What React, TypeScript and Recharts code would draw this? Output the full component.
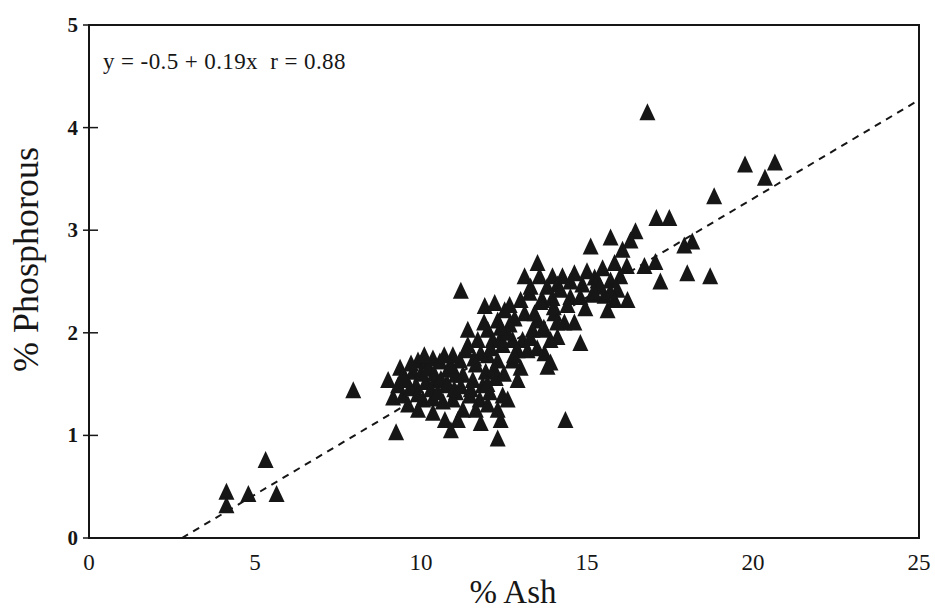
import { ReferenceArea, Scatter, ScatterChart, XAxis, YAxis } from "recharts"

// % ash (x) and % phosphorous (y)
const ashPct = [
  4.14, 4.14, 4.8, 5.32, 5.65, 7.96, 9.25, 11.2, 14.35, 12.31, 16.82, 19.76, 20.66, 20.36,
  18.83, 17.09, 17.48, 17.93, 18.17, 16.73, 17.06, 17.21, 18.02, 18.71, 15.11, 15.71, 16.46,
  13.12, 13.51, 13.57, 13.96, 14.26, 14.62, 15.23, 15.53, 15.92, 16.22, 15.83, 15.71, 16.07,
  16.31, 15.47, 15.62, 14.95, 14.5, 14.8, 14.11, 14.32, 14.62, 13.9, 13.72, 13.9, 13.81,
  13.51, 13.12, 13.42, 14.02, 14.41, 12.91, 13.0, 12.61, 12.4, 12.46, 12.76,
  11.92, 12.22, 12.52, 12.82, 12.67, 12.31, 12.01, 11.41, 11.71, 12.16, 12.46, 12.01, 12.31,
  11.35, 11.65, 11.95, 12.25, 11.86, 11.56, 11.26, 11.47, 11.77, 12.07, 11.26, 11.11, 10.9,
  10.72, 11.65, 12.01, 12.31,
  9.01, 9.37, 9.16, 9.46, 9.61, 9.76, 9.91, 10.15, 10.36, 10.57, 10.81, 11.05, 9.85, 10.15,
  10.45, 10.75, 11.05, 10.06, 10.36, 10.66, 10.96, 10.36, 9.91, 9.67, 9.31, 9.55, 11.17,
  10.96, 11.41,
  13.06, 13.21, 13.36, 13.66, 12.76, 12.91, 13.66, 13.96, 14.11, 14.86, 15.17, 15.32, 15.83,
  13.0, 12.67, 13.27,
  9.7, 10.0, 10.2, 10.4, 10.6, 10.8, 10.3, 10.9, 11.0, 9.9, 10.5, 10.7, 10.1, 11.2, 9.45,
  11.8, 12.1, 12.4, 12.6, 12.2, 11.6, 12.5, 12.8, 11.9, 12.4, 12.0, 11.5, 11.8,
  13.3, 13.8, 14.2, 14.5, 15.0, 15.4, 15.7, 16.0, 16.2, 15.2, 14.8, 13.6, 14.0,
  13.3, 13.7, 14.1, 13.5,
]
const phosPct = [
  0.45, 0.32, 0.43, 0.76, 0.43, 1.44, 1.03, 2.41, 1.15, 0.97, 4.15, 3.64, 3.66, 3.51,
  3.33, 3.12, 3.12, 2.85, 2.89, 2.65, 2.69, 2.5, 2.58, 2.55, 2.84, 2.93, 2.99,
  2.55, 2.68, 2.55, 2.55, 2.55, 2.58, 2.54, 2.36, 2.42, 2.32, 2.68, 2.51, 2.81,
  2.9, 2.63, 2.22, 2.24, 2.35, 1.9, 1.96, 2.1, 2.1, 1.93, 1.8, 1.71, 1.67,
  2.12, 2.19, 2.19, 2.19, 2.27, 1.54, 1.66, 1.35, 1.15, 1.39, 1.73,
  2.26, 2.29, 2.22, 2.14, 2.08, 2.12, 2.03, 2.03, 1.93, 1.93, 1.88, 1.78, 1.73,
  1.83, 1.69, 1.62, 1.56, 1.49, 1.54, 1.59, 1.39, 1.35, 1.42, 1.25, 1.15, 1.05,
  1.15, 1.25, 1.3, 1.25,
  1.54, 1.66, 1.37, 1.39, 1.3, 1.62, 1.73, 1.72, 1.75, 1.72, 1.64, 1.59, 1.49, 1.52,
  1.54, 1.49, 1.42, 1.35, 1.36, 1.33, 1.35, 1.22, 1.25, 1.46, 1.49, 1.54, 1.73,
  1.78, 1.88,
  1.93, 1.83, 2.03, 2.03, 1.93, 1.83, 2.32, 2.34, 2.47, 2.47, 2.37, 2.51, 2.32,
  2.32, 2.27, 2.39,
  1.7, 1.6, 1.65, 1.6, 1.55, 1.5, 1.45, 1.68, 1.45, 1.4, 1.42, 1.78, 1.78, 1.48, 1.58,
  1.8, 1.85, 1.95, 2.0, 1.65, 1.75, 1.6, 1.78, 2.1, 2.05, 1.5, 1.45, 1.12,
  2.45, 2.45, 2.42, 2.5, 2.6, 2.45, 2.4, 2.55, 2.65, 2.4, 2.35, 2.3, 2.25,
  1.95, 2.05, 2.1, 1.85,
]

// fitted line y = -0.5 + 0.19x, drawn across the box
const fitAsh = [2.8, 24.9]
const fitPhos = [0, 4.25]

const xTicks = [0, 5, 10, 15, 20, 25]
const yTicks = [0, 1, 2, 3, 4, 5]
const equation = "y = -0.5 + 0.19x  r = 0.88"

const points = ashPct.map((x, i) => ({ x, y: phosPct[i] }))
const fitLine = fitAsh.map((x, i) => ({ x, y: fitPhos[i] }))

const ink = "#161616"
const serif = "'Liberation Serif', 'Times New Roman', serif"

function Triangle({ cx, cy }: any) {
  return <polygon points={`${cx},${cy - 9} ${cx - 8},${cy + 8} ${cx + 8},${cy + 8}`} fill={ink} />
}

function YTick({ x, y, payload }: any) {
  return (
    <g>
      <line x1={x - 6} x2={x + 9} y1={y} y2={y} stroke={ink} strokeWidth={1.5} />
      <text x={x - 11} y={y} dy={7} textAnchor="end" fontFamily={serif} fontSize={21} fontWeight={700} fill={ink}>
        {payload.value}
      </text>
    </g>
  )
}

export default function App() {
  return (
    <div style={{ position: "absolute", left: 0, top: 0, width: 935, height: 611, background: "#fff" }}>
      <ScatterChart width={935} height={611} margin={{ top: 25, right: 16, bottom: 0, left: 0 }}>
        <XAxis
          type="number"
          dataKey="x"
          domain={[0, 25]}
          ticks={xTicks}
          height={73}
          tickSize={0}
          tickLine={false}
          tickMargin={16}
          axisLine={{ stroke: ink, strokeWidth: 2 }}
          tick={{ fontFamily: serif, fontSize: 23, fill: ink }}
          label={({ viewBox }: any) => (
            <text x={viewBox.x + viewBox.width / 2 + 9} y={603} textAnchor="middle" fontFamily={serif} fontSize={33} fill={ink}>
              % Ash
            </text>
          )}
        />
        <YAxis
          type="number"
          dataKey="y"
          domain={[0, 5]}
          ticks={yTicks}
          width={89}
          tickSize={0}
          tickLine={false}
          tickMargin={0}
          axisLine={{ stroke: ink, strokeWidth: 2 }}
          tick={<YTick />}
          label={({ viewBox }: any) => {
            const cy = viewBox.y + viewBox.height / 2 - 22
            return (
              <text x={38} y={cy} transform={`rotate(-90, 38, ${cy})`} textAnchor="middle" fontFamily={serif} fontSize={36} fill={ink}>
                % Phosphorous
              </text>
            )
          }}
        />
        <ReferenceArea
          x1={0}
          x2={25}
          y1={0}
          y2={5}
          fill="none"
          fillOpacity={0}
          stroke={ink}
          strokeWidth={2}
          label={({ viewBox }: any) => (
            <text
              x={viewBox.x + 14}
              y={viewBox.y + 44}
              fontFamily={serif}
              fontSize={23}
              letterSpacing={0.4}
              fill={ink}
              style={{ whiteSpace: "pre" }}
            >
              {equation}
            </text>
          )}
        />
        <Scatter
          data={fitLine}
          line={{ stroke: ink, strokeWidth: 2, strokeDasharray: "7 6" }}
          shape={() => <g />}
          legendType="none"
          isAnimationActive={false}
        />
        <Scatter data={points} shape={<Triangle />} isAnimationActive={false} />
      </ScatterChart>
    </div>
  )
}
